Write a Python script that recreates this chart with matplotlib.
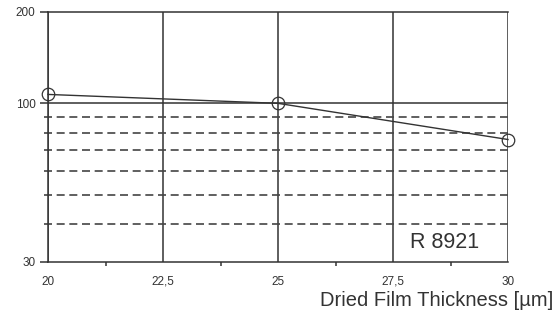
import matplotlib
matplotlib.use("Agg")
import matplotlib.pyplot as plt
from matplotlib.ticker import FixedLocator, NullFormatter

# data
thickness = [20, 25, 30]
values = [107, 100, 76]

x_ticks = [20, 22.5, 25, 27.5, 30]
x_labels = ["20", "22,5", "25", "27,5", "30"]
x_minor = [21.25, 23.75, 26.25, 28.75]
y_ticks = [30, 100, 200]
y_labels = ["30", "100", "200"]
dashed_levels = [40, 50, 60, 70, 80, 90]

plt.rcParams["font.family"] = ["Liberation Sans", "DejaVu Sans"]

fig = plt.figure(figsize=(5.6, 3.21), dpi=100)
ax = fig.add_axes([48 / 560, 59 / 321, 460 / 560, 250 / 321])

grey = "#333333"
ax.set_yscale("log")
ax.set_xlim(20, 30)
ax.set_ylim(30, 200)

for x in x_ticks:
    ax.axvline(x, color=grey, lw=1.1, zorder=1)
ax.axhline(100, color=grey, lw=1.1, zorder=1)
for y in dashed_levels:
    ax.plot([19.91, 30], [y, y], color="#444444", lw=1.2, ls=(0, (4.8, 2.8)),
            clip_on=False, zorder=1)

ax.plot(thickness, values, color=grey, lw=1.0, marker="o", ms=9,
        mfc="none", mec=grey, mew=0.9, clip_on=False, zorder=3)

ax.spines["right"].set_visible(False)
for side in ["left", "bottom", "top"]:
    ax.spines[side].set_color(grey)
    ax.spines[side].set_linewidth(1.1)

ax.yaxis.set_major_locator(FixedLocator(y_ticks))
ax.set_yticklabels(y_labels)
ax.yaxis.set_minor_locator(FixedLocator([]))
ax.yaxis.set_minor_formatter(NullFormatter())
ax.xaxis.set_major_locator(FixedLocator(x_ticks))
ax.set_xticklabels(x_labels)
ax.xaxis.set_minor_locator(FixedLocator(x_minor))

ax.tick_params(axis="y", which="major", direction="out", length=6, width=1.1,
               color=grey, labelsize=8.5, labelcolor="#333333", pad=3)
ax.tick_params(axis="x", which="major", direction="out", length=0, width=1.1,
               color=grey, labelsize=8.5, labelcolor="#333333", pad=10)
ax.tick_params(axis="x", which="minor", direction="out", length=3, width=1.1,
               color=grey)

fig.text(479 / 560, 1 - 243 / 321, "R 8921", ha="right", va="center",
         fontsize=15.5, color="#333333")
fig.text(553 / 560, 1 - 301 / 321, "Dried Film Thickness [µm]", ha="right",
         va="center", fontsize=14.5, color="#333333")

fig.savefig("out.png", dpi=100)
